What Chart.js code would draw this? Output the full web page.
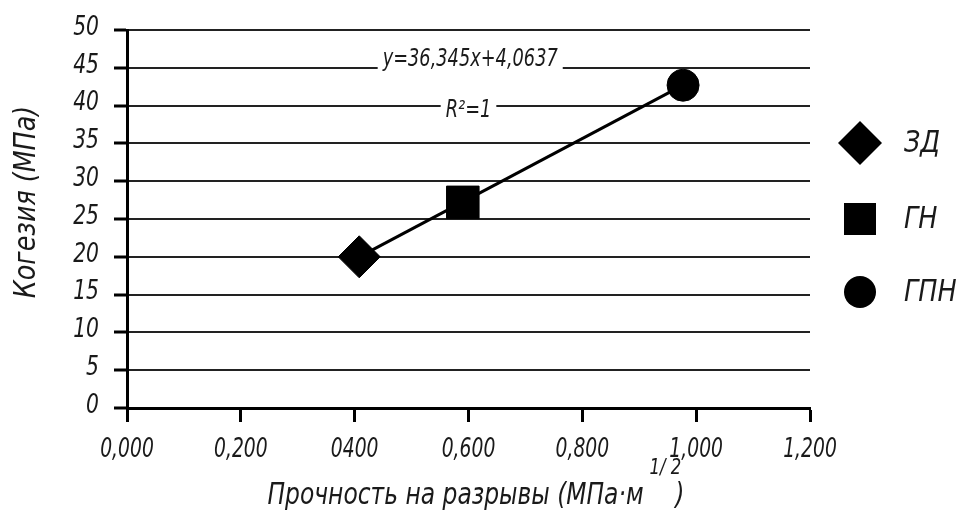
<!DOCTYPE html>
<html>
<head>
<meta charset="utf-8">
<script src="https://cdn.jsdelivr.net/npm/chart.js@4.4.1/dist/chart.umd.min.js"></script>
<style>
  html, body { margin: 0; padding: 0; background: #fff; }
  canvas { display: block; }
</style>
</head>
<body>
<canvas id="scatter-chart" width="960" height="514"></canvas>
<script>
// data
const seriesNames = ['ЗД', 'ГН', 'ГПН'];
const toughness = [0.408, 0.590, 0.977];
const cohesion = [20.0, 27.2, 42.7];
const xTickLabels = ['0,000', '0,200', '0400', '0,600', '0,800', '1,000', '1,200'];
const trendText = ['y=36,345x+4,0637', 'R²=1'];
const yTitle = 'Когезия (МПа)';
const xTitle = ['Прочность на разрывы (МПа·м', '1/ 2', ')'];

const FONT = "'DejaVu Sans', sans-serif";
const TEXT = '#1a1a1a';
const pointStyles = ['rectRot', 'rect', 'circle'];
const pointSizes = [21, 23, 16];

const ctx = document.getElementById('scatter-chart');

const datasets = seriesNames.map((name, i) => ({
    label: name,
    data: [{ x: toughness[i], y: cohesion[i] }],
    pointStyle: pointStyles[i],
    pointRadius: pointSizes[i],
    pointHoverRadius: pointSizes[i],
    backgroundColor: '#000',
    borderColor: '#000',
    borderWidth: 1
}));

// trend line between first and last point
datasets.push({
    label: 'trend',
    data: [
        { x: toughness[0], y: cohesion[0] },
        { x: toughness[toughness.length - 1], y: cohesion[cohesion.length - 1] }
    ],
    showLine: true,
    borderColor: '#000',
    borderWidth: 3,
    pointRadius: 0
});

// narrow italic text (no condensed font installed, so squeeze horizontally)
function narrowText(c, str, x, y, size, sx, align) {
    c.save();
    c.font = 'italic ' + size + 'px ' + FONT;
    c.textAlign = align || 'left';
    c.translate(x, y);
    c.scale(sx, 1);
    c.fillText(str, 0, 0);
    c.restore();
}
function narrowWidth(c, str, size, sx) {
    c.font = 'italic ' + size + 'px ' + FONT;
    return c.measureText(str).width * sx;
}

const extras = {
    id: 'extras',
    afterDraw(chart) {
        const c = chart.ctx;
        const xs = chart.scales.x, ys = chart.scales.y;
        c.save();
        c.fillStyle = TEXT;
        c.textBaseline = 'middle';

        // tick labels
        xTickLabels.forEach((lab, i) => {
            narrowText(c, lab, xs.getPixelForValue(i * 0.2), chart.chartArea.bottom + 42, 26, 0.72, 'center');
        });
        ys.ticks.forEach(t => {
            narrowText(c, String(t.value), 99, ys.getPixelForValue(t.value) - 2, 26, 0.78, 'right');
        });

        // trend labels with white box over grid lines
        const labels = [
            { t: trendText[0], x: xs.getPixelForValue(0.603), y: ys.getPixelForValue(46.1) },
            { t: trendText[1], x: xs.getPixelForValue(0.600), y: ys.getPixelForValue(39.3) }
        ];
        labels.forEach(l => {
            const w = narrowWidth(c, l.t, 24, 0.74);
            c.fillStyle = '#fff';
            c.fillRect(l.x - w / 2 - 5, l.y - 13, w + 10, 27);
            c.fillStyle = TEXT;
            narrowText(c, l.t, l.x, l.y, 24, 0.74, 'center');
        });

        // legend
        const legY = [143, 219, 292];
        seriesNames.forEach((name, i) => {
            const px = 860, py = legY[i];
            c.fillStyle = '#000';
            c.beginPath();
            if (i === 0) {
                const r = 22;
                c.moveTo(px - r, py); c.lineTo(px, py - r);
                c.lineTo(px + r, py); c.lineTo(px, py + r);
                c.closePath();
            } else if (i === 1) {
                c.rect(px - 16, py - 16, 32, 32);
            } else {
                c.arc(px, py, 16, 0, Math.PI * 2);
            }
            c.fill();
            c.fillStyle = TEXT;
            narrowText(c, name, 904, py + 1, 30, 0.85, 'left');
        });

        // y axis title
        c.save();
        c.translate(27, 202);
        c.rotate(-Math.PI / 2);
        narrowText(c, yTitle, 0, 0, 31, 0.82, 'center');
        c.restore();

        // x axis title with superscript
        c.textBaseline = 'alphabetic';
        const wMain = narrowWidth(c, xTitle[0], 30, 0.78);
        const wSup = narrowWidth(c, xTitle[1], 22, 0.75);
        const wTail = narrowWidth(c, xTitle[2], 30, 0.78);
        let sx = 476 - (wMain + wSup + wTail) / 2;
        const base = 504;
        narrowText(c, xTitle[0], sx, base, 30, 0.78, 'left');
        sx += wMain + 6;
        narrowText(c, xTitle[1], sx, base - 30, 22, 0.75, 'left');
        sx += wSup - 6;
        narrowText(c, xTitle[2], sx, base, 30, 0.78, 'left');
        c.restore();
    }
};

new Chart(ctx, {
    type: 'scatter',
    data: { datasets: datasets },
    options: {
        responsive: false,
        animation: false,
        devicePixelRatio: 1,
        layout: { padding: { top: 30, right: 150, left: 0, bottom: 0 } },
        plugins: {
            legend: { display: false },
            tooltip: { enabled: false }
        },
        scales: {
            x: {
                type: 'linear',
                min: 0,
                max: 1.2,
                afterFit(scale) { scale.height = 106; },
                afterBuildTicks(scale) {
                    scale.ticks = xTickLabels.map((_, i) => ({ value: i * 0.2 }));
                },
                ticks: { display: false },
                grid: {
                    drawOnChartArea: false,
                    drawTicks: true,
                    tickLength: 14,
                    tickWidth: 3,
                    tickColor: '#000'
                },
                border: { color: '#000', width: 3 }
            },
            y: {
                min: 0,
                max: 50,
                afterFit(scale) { scale.width = 127; },
                ticks: { display: false, stepSize: 5 },
                grid: {
                    color: '#222',
                    lineWidth: 2,
                    tickLength: 13,
                    tickWidth: 3,
                    tickColor: '#000'
                },
                border: { color: '#000', width: 3 }
            }
        }
    },
    plugins: [extras]
});
</script>
</body>
</html>
